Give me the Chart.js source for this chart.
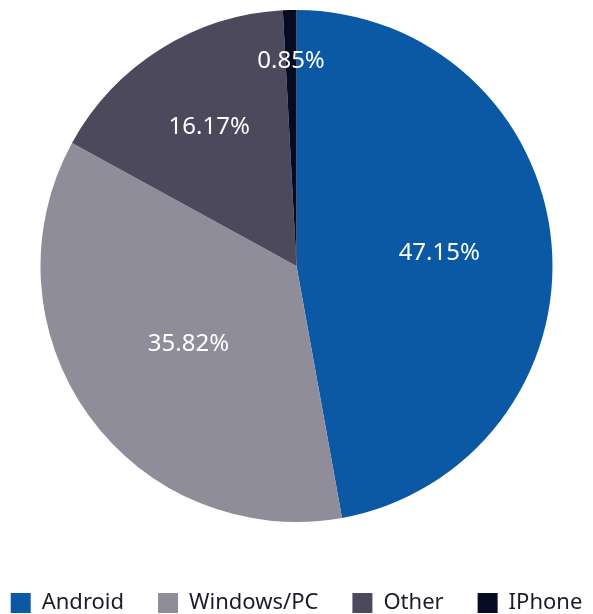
<!DOCTYPE html>
<html>
<head>
<meta charset="utf-8">
<script src="https://cdn.jsdelivr.net/npm/chart.js@4.4.1/dist/chart.umd.min.js"></script>
<style>
    html, body { margin: 0; padding: 0; background: #fff; }
    #wrap { width: 593px; height: 614px; position: relative; }
</style>
</head>
<body>
<div id="wrap"><canvas id="pieChart"></canvas></div>
<script>
let categories = ['Android', 'Windows/PC', 'Other', 'IPhone'];
let shares = [47.15, 35.82, 16.17, 0.85];
let sliceLabels = ['47.15%', '35.82%', '16.17%', '0.85%'];

let sliceColors = ['#0b58a5', '#8f8d99', '#4b495b', '#060b24'];
// how far out (fraction of radius) each slice label sits
let labelRadius = [0.56, 0.52, 0.64, 0.80];

const sliceLabelPlugin = {
    id: 'sliceLabels',
    afterDatasetsDraw(chart) {
        let ctx = chart.ctx;
        let arcs = chart.getDatasetMeta(0).data;

        ctx.save();
        ctx.fillStyle = '#ffffff';
        ctx.font = '24px "Noto Sans"';
        ctx.textAlign = 'center';
        ctx.textBaseline = 'middle';
        arcs.forEach((arc, i) => {
            let mid = (arc.startAngle + arc.endAngle) / 2;
            let r = arc.outerRadius * labelRadius[i];
            ctx.fillText(sliceLabels[i], arc.x + Math.cos(mid) * r, arc.y + Math.sin(mid) * r);
        });
        ctx.restore();
    }
};

// keep all legend items on one row, keep the legend box tall so the pie
// gets its size, then push the items down to the bottom edge
const legendSpacePlugin = {
    id: 'legendSpace',
    afterInit(chart) {
        let legend = chart.legend;
        let fit = legend.fit;
        legend.fit = function () {
            let realWidth = this.maxWidth;
            this.maxWidth = 900;
            fit.call(this);
            this.maxWidth = realWidth;
            this.width = realWidth;
            this.height = 92;
        };
    },
    afterLayout(chart) {
        let legend = chart.legend;
        legend.top += 36;
        legend.bottom += 36;
        // widen both sides equally: centring stays, row no longer wraps
        legend.left -= 60;
        legend.right += 60;
    }
};

new Chart('pieChart', {
    type: 'pie',
    data: {
        labels: categories,
        datasets: [{
            data: shares,
            backgroundColor: sliceColors,
            borderWidth: 0
        }]
    },
    options: {
        responsive: true,
        maintainAspectRatio: false,
        animation: false,
        layout: { padding: { top: 10, bottom: 0 } },
        plugins: {
            tooltip: { enabled: false },
            legend: {
                position: 'bottom',
                labels: {
                    boxWidth: 20,
                    boxHeight: 20,
                    padding: 34,
                    color: '#1c1c28',
                    font: { family: 'Noto Sans', size: 22 }
                }
            }
        }
    },
    plugins: [sliceLabelPlugin, legendSpacePlugin]
});
</script>
</body>
</html>
